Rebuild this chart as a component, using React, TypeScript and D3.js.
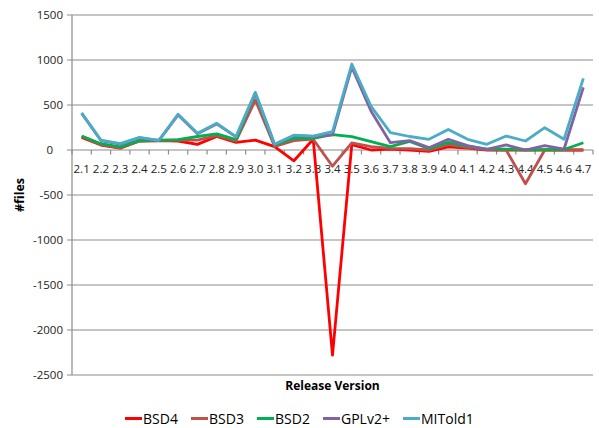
import React from "react";
import * as d3 from "d3";

const categories = ["2.1","2.2","2.3","2.4","2.5","2.6","2.7","2.8","2.9","3.0","3.1","3.2","3.3","3.4","3.5","3.6","3.7","3.8","3.9","4.0","4.1","4.2","4.3","4.4","4.5","4.6","4.7"];

const bsd4 =   [140, 55, 20, 100, 105, 100, 63, 150, 85, 110, 37, -120, 120, -2280, 60, 0, 10, 0, -15, 35, 20, 0, 0, 0, 0, 0, 0];
const bsd3 =   [150, 60, 25, 100, 105, 110, 110, 160, 100, 555, 40, 104, 120, -180, 80, 37, 19, 15, 0, 60, 30, 5, 0, -375, 0, 0, 0];
const bsd2 =   [155, 70, 35, 105, 110, 115, 150, 180, 115, 628, 55, 130, 130, 172, 148, 93, 37, 95, 15, 85, 44, 10, 10, 0, 5, 5, 80];
const gplv2 =  [405, 105, 65, 135, 105, 390, 180, 290, 145, 634, 60, 160, 150, 167, 920, 430, 81, 104, 26, 119, 48, 8, 56, 0, 48, 11, 696];
const mitold1 =[412, 110, 70, 140, 108, 398, 185, 296, 148, 640, 65, 165, 155, 204, 955, 485, 193, 150, 119, 229, 119, 63, 155, 100, 248, 119, 796];

const seriesNames = ["BSD4", "BSD3", "BSD2", "GPLv2+", "MITold1"];
const seriesData = [bsd4, bsd3, bsd2, gplv2, mitold1];
const seriesColors = ["#FF0000", "#C0504D", "#00B050", "#8064A2", "#4BACC6"];

const yTicks = [1500, 1000, 500, 0, -500, -1000, -1500, -2000, -2500];

export default function App() {
  const W = 599, H = 428;
  const left = 72, right = 593, top = 15, bottom = 375;
  const x = d3.scalePoint<string>().domain(categories).range([left, right]).padding(0.5);
  const y = d3.scaleLinear().domain([-2500, 1500]).range([bottom, top]);
  const step = x.step();
  const line = d3.line<number>().x((_, i) => x(categories[i]) as number).y((d) => y(d));
  const font = "'Open Sans', 'Liberation Sans', sans-serif";
  const gridColor = "#8C8C8C";

  const legendX = [125, 191, 257, 323, 403];

  return (
    <svg width={W} height={H} style={{ position: "absolute", left: 0, top: 0 }} fontFamily={font}>
      <rect width={W} height={H} fill="#fff" />
      {yTicks.map((t) => (
        <g key={t}>
          <line x1={left - 5} x2={right} y1={y(t)} y2={y(t)} stroke={gridColor} strokeWidth={1.2} />
          <text x={t === 0 ? 53 : 63} y={y(t)} dy="0.35em" textAnchor="end" fontSize={11.5} fill="#222">{t}</text>
        </g>
      ))}
      <line x1={left} x2={left} y1={top} y2={bottom} stroke={gridColor} strokeWidth={1.2} />
      {d3.range(categories.length + 1).map((i) => (
        <line key={i} x1={left + i * step} x2={left + i * step} y1={y(0)} y2={y(0) + 4.5} stroke={gridColor} strokeWidth={1.2} />
      ))}
      {categories.map((c) => (
        <text key={c} x={x(c)} y={y(0) + 23} textAnchor="middle" fontSize={11.5} fill="#222">{c}</text>
      ))}
      {seriesData.map((s, i) => (
        <path key={i} d={line(s) || ""} fill="none" stroke={seriesColors[i]} strokeWidth={2.8} strokeLinejoin="round" />
      ))}
      <text transform={`translate(24, ${(top + bottom) / 2}) rotate(-90)`} textAnchor="middle" fontSize={12.5} fontWeight="bold" fill="#000">#files</text>
      <text x={(left + right) / 2} y={390} textAnchor="middle" fontSize={12} fontWeight="bold" fill="#000">Release Version</text>
      {seriesNames.map((n, i) => (
        <g key={n}>
          <line x1={legendX[i]} x2={legendX[i] + 17} y1={418.5} y2={418.5} stroke={seriesColors[i]} strokeWidth={3} />
          <text x={legendX[i] + 18} y={418.5} dy="0.36em" fontSize={14} fill="#000">{n}</text>
        </g>
      ))}
    </svg>
  );
}
